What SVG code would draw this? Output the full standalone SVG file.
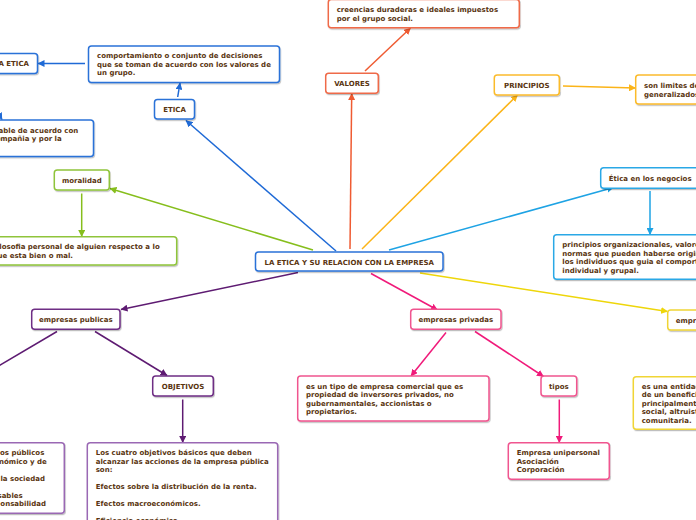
<svg xmlns="http://www.w3.org/2000/svg" width="696" height="520" viewBox="0 0 696 520">
<defs>
<style>
text{font-family:"DejaVu Sans","Verdana",sans-serif;font-size:7px;font-weight:bold;fill:#5a3510}
.m{text-anchor:middle}
.e{text-anchor:end}
rect{fill:#fff;stroke-width:1.5;filter:url(#sh)}
.cn line{stroke-width:1.5;fill:none}
.b{stroke:#1f6ad6}.o{stroke:#ef5b32}.g{stroke:#fbb418}.lb{stroke:#1ea3e4}.gr{stroke:#86be1c}.p{stroke:#5e1b72}.pk{stroke:#f01a7a}.y{stroke:#eed60a}
.rb{stroke:#2a72d8}.ro{stroke:#ef6a48}.rg{stroke:#fbbb2c}.rlb{stroke:#2ba8e6}.rgr{stroke:#8fc43a}.rp{stroke:#6e2d84}.rp2{stroke:#9a68b4}.rpk{stroke:#f0558f}.ry{stroke:#f0d535}
</style>
<filter id="sh" x="-10%" y="-20%" width="130%" height="160%"><feDropShadow dx="0.8" dy="1.2" stdDeviation="0.7" flood-color="#000" flood-opacity="0.25"/></filter>
<marker id="ab" viewBox="0 0 7 7" refX="6.5" refY="3.5" markerWidth="7" markerHeight="7" markerUnits="userSpaceOnUse" orient="auto"><path d="M0,0 L7,3.5 L0,7 Z" fill="#1f6ad6"/></marker>
<marker id="ao" viewBox="0 0 7 7" refX="6.5" refY="3.5" markerWidth="7" markerHeight="7" markerUnits="userSpaceOnUse" orient="auto"><path d="M0,0 L7,3.5 L0,7 Z" fill="#ef5b32"/></marker>
<marker id="ag" viewBox="0 0 7 7" refX="6.5" refY="3.5" markerWidth="7" markerHeight="7" markerUnits="userSpaceOnUse" orient="auto"><path d="M0,0 L7,3.5 L0,7 Z" fill="#fbb418"/></marker>
<marker id="alb" viewBox="0 0 7 7" refX="6.5" refY="3.5" markerWidth="7" markerHeight="7" markerUnits="userSpaceOnUse" orient="auto"><path d="M0,0 L7,3.5 L0,7 Z" fill="#1ea3e4"/></marker>
<marker id="agr" viewBox="0 0 7 7" refX="6.5" refY="3.5" markerWidth="7" markerHeight="7" markerUnits="userSpaceOnUse" orient="auto"><path d="M0,0 L7,3.5 L0,7 Z" fill="#86be1c"/></marker>
<marker id="ap" viewBox="0 0 7 7" refX="6.5" refY="3.5" markerWidth="7" markerHeight="7" markerUnits="userSpaceOnUse" orient="auto"><path d="M0,0 L7,3.5 L0,7 Z" fill="#5e1b72"/></marker>
<marker id="apk" viewBox="0 0 7 7" refX="6.5" refY="3.5" markerWidth="7" markerHeight="7" markerUnits="userSpaceOnUse" orient="auto"><path d="M0,0 L7,3.5 L0,7 Z" fill="#f01a7a"/></marker>
<marker id="ay" viewBox="0 0 7 7" refX="6.5" refY="3.5" markerWidth="7" markerHeight="7" markerUnits="userSpaceOnUse" orient="auto"><path d="M0,0 L7,3.5 L0,7 Z" fill="#eed60a"/></marker>
</defs>
<rect x="-5" y="-5" width="706" height="530" style="fill:#fff;stroke:none;filter:none"/>
<g id="connectors" class="cn">
<line class="b" x1="336" y1="251" x2="186" y2="120.5" marker-end="url(#ab)"/>
<line class="b" x1="177.7" y1="97" x2="180" y2="83" marker-end="url(#ab)"/>
<line class="b" x1="85" y1="63.5" x2="38" y2="63.5" marker-end="url(#ab)"/>
<line class="b" x1="-12" y1="95" x2="2" y2="119.5" marker-end="url(#ab)"/>
<line class="o" x1="350" y1="249" x2="351.7" y2="93.5" marker-end="url(#ao)"/>
<line class="o" x1="365" y1="71" x2="410.5" y2="28" marker-end="url(#ao)"/>
<line class="g" x1="362" y1="249" x2="517.5" y2="95" marker-end="url(#ag)"/>
<line class="g" x1="563" y1="86" x2="635.5" y2="88" marker-end="url(#ag)"/>
<line class="lb" x1="389" y1="250" x2="613.5" y2="187.5" marker-end="url(#alb)"/>
<line class="lb" x1="650" y1="191" x2="650" y2="234.5" marker-end="url(#alb)"/>
<line class="gr" x1="313" y1="250" x2="110" y2="188.5" marker-end="url(#agr)"/>
<line class="gr" x1="81.7" y1="193.5" x2="81.7" y2="236.5" marker-end="url(#agr)"/>
<line class="p" x1="298" y1="272.5" x2="121" y2="309.5" marker-end="url(#ap)"/>
<line class="p" x1="57" y1="331.5" x2="-20" y2="377"/>
<line class="p" x1="95" y1="331.5" x2="167" y2="375.5" marker-end="url(#ap)"/>
<line class="p" x1="182.7" y1="399.5" x2="182.7" y2="442.5" marker-end="url(#ap)"/>
<line class="pk" x1="371" y1="273.5" x2="437.5" y2="310" marker-end="url(#apk)"/>
<line class="pk" x1="446" y1="332.5" x2="411" y2="376" marker-end="url(#apk)"/>
<line class="pk" x1="475" y1="331.5" x2="543.5" y2="376.5" marker-end="url(#apk)"/>
<line class="pk" x1="559.3" y1="399.5" x2="559.3" y2="442.5" marker-end="url(#apk)"/>
<line class="y" x1="420" y1="273" x2="667.5" y2="311.5" marker-end="url(#ay)"/>
</g>
<g id="center"><rect class="rb" x="255.5" y="252" width="187.5" height="19" rx="3"/><text class="m" x="349.2" y="264.5">LA ETICA Y SU RELACION CON LA EMPRESA</text></g>
<g id="etica"><rect class="rb" x="154.5" y="99.5" width="40" height="19.5" rx="3"/><text class="m" x="174.5" y="112">ETICA</text></g>
<g id="comportamiento"><rect class="rb" x="88.5" y="46" width="191" height="36.5" rx="3"/><text x="97" y="58">comportamiento o conjunto de decisiones</text><text x="97" y="66.5">que se toman de acuerdo con los valores de</text><text x="97" y="75">un grupo.</text></g>
<g id="la-etica"><rect class="rb" x="-20" y="53.5" width="57.5" height="20" rx="3"/><text class="e" x="29" y="66">LA ETICA</text></g>
<g id="responsable"><rect class="rb" x="-20" y="120" width="113.5" height="36.5" rx="3"/><text class="e" x="78.3" y="132.5">able de acuerdo con</text><text class="e" x="61.7" y="141">ompañia y por la</text></g>
<g id="valores"><rect class="ro" x="325.7" y="73.3" width="52.6" height="20" rx="3"/><text class="m" x="352" y="86">VALORES</text></g>
<g id="creencias"><rect class="ro" x="328.3" y="-0.5" width="191" height="28.2" rx="3"/><text x="336.7" y="12">creencias duraderas e ideales impuestos</text><text x="336.7" y="20.7">por el grupo social.</text></g>
<g id="principios"><rect class="rg" x="494.3" y="75" width="65" height="20" rx="3"/><text class="m" x="526.8" y="87.7">PRINCIPIOS</text></g>
<g id="limites"><rect class="rg" x="635.7" y="75" width="80" height="29" rx="3"/><text x="644" y="88">son limites de</text><text x="644" y="96.5">generalizados</text></g>
<g id="etica-negocios"><rect class="rlb" x="600.7" y="167.7" width="110" height="20.5" rx="3"/><text x="608.7" y="180.5">Ética en los negocios</text></g>
<g id="principios-org"><rect class="rlb" x="553.7" y="234.7" width="160" height="44.6" rx="3"/><text x="562.3" y="247">principios organizacionales, valores y</text><text x="562.3" y="255.5">normas que pueden haberse originado en</text><text x="562.3" y="264">los individuos que guia el comportamiento</text><text x="562.3" y="272.5">individual y grupal.</text></g>
<g id="moralidad"><rect class="rgr" x="54.3" y="170" width="55" height="20" rx="3"/><text class="m" x="81.8" y="182.5">moralidad</text></g>
<g id="filosofia"><rect class="rgr" x="-13" y="236.7" width="189.7" height="28.3" rx="3"/><text class="e" x="159.7" y="249">ilosofia personal de alguien respecto a lo</text><text class="e" x="73" y="257.5">ue esta bien o mal.</text></g>
<g id="empresas-publicas"><rect class="rp" x="31.7" y="309.3" width="88.3" height="20" rx="3"/><text class="m" x="75.8" y="322">empresas publicas</text></g>
<g id="objetivos"><rect class="rp" x="152.7" y="376" width="60.6" height="20" rx="3"/><text class="m" x="183" y="388.5">OBJETIVOS</text></g>
<g id="cuatro-objetivos"><rect class="rp2" x="87.3" y="442.7" width="190.4" height="90" rx="3"/><text x="95.7" y="455.3">Los cuatro objetivos básicos que deben</text><text x="95.7" y="463.8">alcanzar las acciones de la empresa pública</text><text x="95.7" y="472.3">son:</text><text x="95.7" y="489.3">Efectos sobre la distribución de la renta.</text><text x="95.7" y="506.3">Efectos macroeconómicos.</text><text x="95.7" y="523.3">Eficiencia económica.</text></g>
<g id="servicios-publicos"><rect class="rp2" x="-20" y="442.7" width="84.3" height="70.6" rx="3"/><text class="e" x="44.3" y="455.3">os públicos</text><text class="e" x="46.7" y="463.8">nómico y de</text><text class="e" x="45" y="480.8">la sociedad</text><text class="e" x="22.7" y="497.5">sables</text><text class="e" x="46" y="506">onsabilidad</text></g>
<g id="empresas-privadas"><rect class="rpk" x="410.7" y="309.3" width="90.3" height="20" rx="3"/><text class="m" x="455.8" y="322">empresas privadas</text></g>
<g id="tipo-empresa"><rect class="rpk" x="297.7" y="376" width="191.3" height="45" rx="3"/><text x="306" y="388.5">es un tipo de empresa comercial que es</text><text x="306" y="397">propiedad de inversores privados, no</text><text x="306" y="405.5">gubernamentales, accionistas o</text><text x="306" y="414">propietarios.</text></g>
<g id="tipos"><rect class="rpk" x="541" y="376" width="35.7" height="20" rx="3"/><text class="m" x="558.8" y="388.5">tipos</text></g>
<g id="empresa-unipersonal"><rect class="rpk" x="508.3" y="442.7" width="101" height="36.6" rx="3"/><text x="516.7" y="455.3">Empresa unipersonal</text><text x="516.7" y="463.8">Asociación</text><text x="516.7" y="472.3">Corporación</text></g>
<g id="empresas-sin-lucro"><rect class="ry" x="667.7" y="310" width="80" height="20" rx="3"/><text x="675.8" y="322.5">empresas</text></g>
<g id="entidad"><rect class="ry" x="633.3" y="376.7" width="100" height="52.6" rx="3"/><text x="641.7" y="388.7">es una entidad cuyo</text><text x="641.7" y="397.2">de un beneficio</text><text x="641.7" y="405.7">principalmente</text><text x="641.7" y="414.2">social, altruista</text><text x="641.7" y="422.7">comunitaria.</text></g>
</svg>
